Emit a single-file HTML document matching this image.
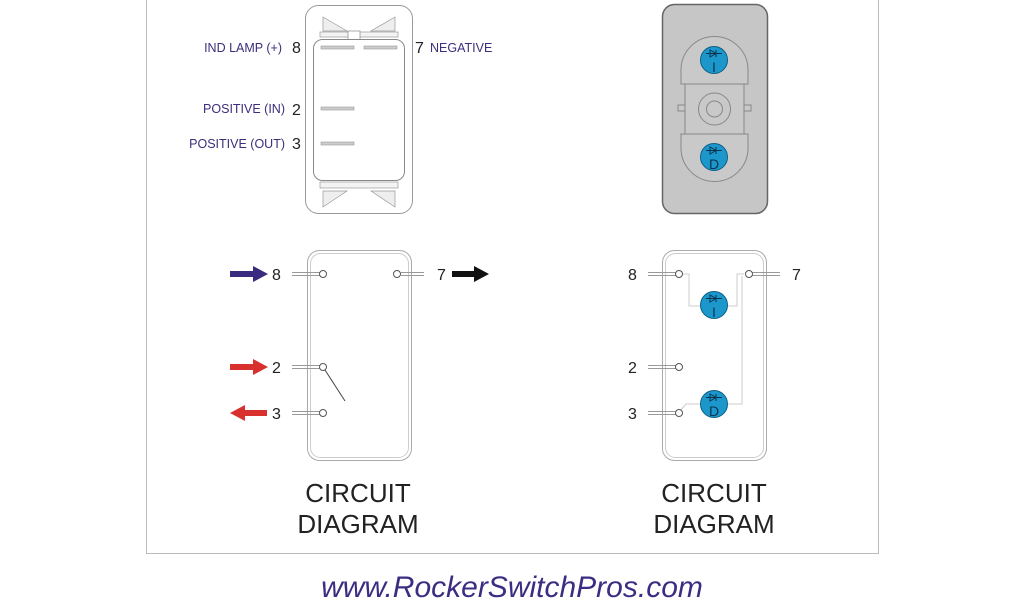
<!DOCTYPE html>
<html><head><meta charset="utf-8"><style>
html,body{margin:0;padding:0;background:#fff;width:1024px;height:600px;overflow:hidden}
svg{display:block}
text{font-family:"Liberation Sans",sans-serif}
</style></head><body>
<svg width="1024" height="600" viewBox="0 0 1024 600">
<defs>
<g id="diodeI">
<circle r="13.5" fill="#1b97cc" stroke="#0d5f85" stroke-width="1"/>
<path d="M-4,-10 L-4,-3 L2,-6.5 Z M2,-10 L2,-3 M-8,-6.5 L8,-6.5" stroke="#0a3550" stroke-width="1" fill="none"/>
</g>
</defs>
<!-- frame -->
<path d="M146.5,0 V553.5 H878.5 V0" fill="none" stroke="#bbb" stroke-width="1"/>

<!-- top left switch -->
<rect x="305.5" y="5.5" width="107" height="208" rx="13" fill="#fff" stroke="#999"/>
<path d="M323,17 L347,31 L323,31 Z M395,17 L371,31 L395,31 Z" fill="#eee" stroke="#999" stroke-width="0.7"/>
<path d="M323,207 L347,191 L323,191 Z M395,207 L371,191 L395,191 Z" fill="#eee" stroke="#999" stroke-width="0.7"/>
<rect x="320" y="32" width="78" height="5" fill="#f3f3f3" stroke="#999" stroke-width="0.7"/>
<rect x="320" y="182" width="78" height="6" fill="#f3f3f3" stroke="#999" stroke-width="0.7"/>
<rect x="348" y="31" width="12" height="10" fill="#fff" stroke="#888" stroke-width="0.7"/>
<rect x="313.5" y="39.5" width="91" height="141" rx="9" fill="#fff" stroke="#888"/>
<g fill="#ccc" stroke="#999" stroke-width="0.6">
<rect x="321" y="46" width="33" height="3"/><rect x="364" y="46" width="33" height="3"/>
<rect x="321" y="107" width="33" height="3"/><rect x="321" y="142" width="33" height="3"/>
</g>
<g fill="#3d2d7c" font-size="12.5" text-anchor="end">
<text x="282" y="52">IND LAMP (+)</text>
<text x="285" y="113">POSITIVE (IN)</text>
<text x="285" y="148">POSITIVE (OUT)</text>
</g>
<text x="430" y="52" fill="#3d2d7c" font-size="12.5">NEGATIVE</text>
<g font-size="16" fill="#222">
<text x="292" y="53">8</text><text x="292" y="115">2</text><text x="292" y="149">3</text>
<text x="415" y="53">7</text>
</g>

<!-- top right switch -->
<rect x="662.5" y="4.5" width="105" height="209" rx="12" fill="#c6c6c6" stroke="#666" stroke-width="1.5"/>
<path d="M681,84 V70 A33,33 0 0 1 748,70 V84 Z" fill="#c9c9c9" stroke="#888"/>
<path d="M681,134 V148 A33,33 0 0 0 748,148 V134 Z" fill="#c9c9c9" stroke="#888"/>
<rect x="685" y="84" width="59" height="50" fill="#c9c9c9" stroke="#888"/>
<rect x="678" y="105" width="7" height="6" fill="#c9c9c9" stroke="#888"/>
<rect x="744" y="105" width="7" height="6" fill="#c9c9c9" stroke="#888"/>
<circle cx="714.5" cy="109" r="16" fill="none" stroke="#888"/>
<circle cx="714.5" cy="109" r="8" fill="none" stroke="#888"/>
<use href="#diodeI" x="714" y="60"/>
<text x="714" y="72" font-size="14" text-anchor="middle" fill="#0a3550">I</text>
<use href="#diodeI" x="714" y="157"/>
<text x="714" y="169" font-size="14" text-anchor="middle" fill="#0a3550">D</text>

<!-- bottom left circuit -->
<rect x="307.5" y="250.5" width="104" height="210" rx="12" fill="none" stroke="#aaa"/>
<rect x="310.5" y="253.5" width="98" height="204" rx="10" fill="none" stroke="#ccc"/>
<g stroke="#999" stroke-width="1" fill="#fff">
<path d="M292,272.5 H320 M292,275.5 H320 M292,365.5 H320 M292,368.5 H320 M292,411.5 H320 M292,414.5 H320 M401,272.5 H424 M401,275.5 H424"/>
</g>
<g stroke="#555" fill="#fff">
<circle cx="323" cy="274" r="3.5"/><circle cx="397" cy="274" r="3.5"/>
<circle cx="323" cy="367" r="3.5"/><circle cx="323" cy="413" r="3.5"/>
</g>
<line x1="325" y1="370" x2="345" y2="401" stroke="#444"/>
<g font-size="16" fill="#222">
<text x="272" y="280">8</text><text x="272" y="373">2</text><text x="272" y="419">3</text><text x="437" y="280">7</text>
</g>
<path d="M230,271 H253 V266 L268,274 L253,282 V277 H230 Z" fill="#3a2a80"/>
<path d="M230,364 H253 V359 L268,367 L253,375 V370 H230 Z" fill="#d8302c"/>
<path d="M267,410 H245 V405 L230,413 L245,421 V416 H267 Z" fill="#d8302c"/>
<path d="M452,271 H474 V266 L489,274 L474,282 V277 H452 Z" fill="#111"/>

<!-- bottom right circuit -->
<rect x="662.5" y="250.5" width="104" height="210" rx="12" fill="none" stroke="#aaa"/>
<rect x="665.5" y="253.5" width="98" height="204" rx="10" fill="none" stroke="#ccc"/>
<g stroke="#999" stroke-width="1">
<path d="M648,272.5 H676 M648,275.5 H676 M648,365.5 H676 M648,368.5 H676 M648,411.5 H676 M648,414.5 H676 M752,272.5 H780 M752,275.5 H780"/>
</g>
<g stroke="#ccc" fill="none">
<path d="M682,274 H689 V306 H702"/>
<path d="M727,306 H737 V274 H744"/>
<path d="M727,404 H742 V276"/>
<path d="M680,411 L686,404 H702"/>
</g>
<g stroke="#555" fill="#fff">
<circle cx="679" cy="274" r="3.5"/><circle cx="749" cy="274" r="3.5"/>
<circle cx="679" cy="367" r="3.5"/><circle cx="679" cy="413" r="3.5"/>
</g>
<use href="#diodeI" x="714" y="305"/>
<text x="714" y="317" font-size="14" text-anchor="middle" fill="#0a3550">I</text>
<use href="#diodeI" x="714" y="404"/>
<text x="714" y="416" font-size="14" text-anchor="middle" fill="#0a3550">D</text>
<g font-size="16" fill="#222">
<text x="628" y="280">8</text><text x="628" y="373">2</text><text x="628" y="419">3</text><text x="792" y="280">7</text>
</g>

<g font-size="26" fill="#222" text-anchor="middle">
<text x="358" y="502">CIRCUIT</text><text x="358" y="533">DIAGRAM</text>
<text x="714" y="502">CIRCUIT</text><text x="714" y="533">DIAGRAM</text>
</g>
<text x="512" y="597" font-size="30" font-style="italic" fill="#3d2d82" text-anchor="middle">www.RockerSwitchPros.com</text>
</svg>
</body></html>
